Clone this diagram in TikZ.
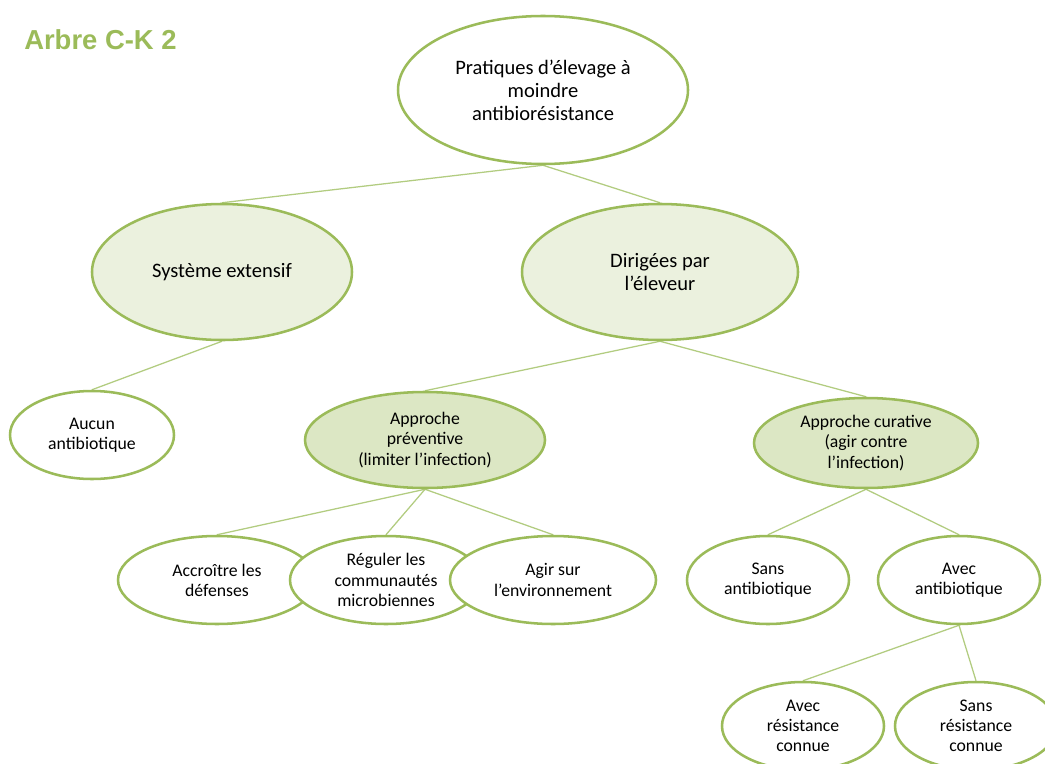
\documentclass[tikz,border=0pt]{standalone}
\usepackage{fontspec}
\setmainfont{Carlito}
\newfontfamily\titlefont{Liberation Sans}
\usetikzlibrary{shapes.geometric, backgrounds}

\definecolor{olive}{RGB}{155,187,89}
\definecolor{oliveleaf}{RGB}{235,241,222}
\definecolor{olivedeep}{RGB}{220,231,196}
\definecolor{olivelink}{RGB}{178,204,128}

\begin{document}
\begin{tikzpicture}[x=0.025cm, y=-0.025cm,
    idea/.style={ellipse, draw=olive, line width=1.8pt, fill=white, inner sep=0pt, align=center, font=\fontsize{12.6}{14.3}\selectfont},
    bigidea/.style={idea, font=\fontsize{14.6}{16.4}\selectfont},
    leaf/.style={fill=oliveleaf},
    deepleaf/.style={fill=olivedeep},
    link/.style={draw=olivelink, line width=0.9pt},
    size/.style n args={2}{minimum width=#1*0.025cm, minimum height=#2*0.025cm},
]
  \useasboundingbox (0,0) rectangle (1045,763);
  \clip (0,0) rectangle (1045,763);

  \node[anchor=west, inner sep=0pt, text=olive, font=\titlefont\bfseries\fontsize{19.5}{22}\selectfont] (title) at (24,40) {Arbre C-K 2};

  % root and first level
  \node[bigidea, size={290}{148}] (root) at (543,90) {Pratiques d’élevage à\\moindre\\antibiorésistance};
  \node[bigidea, leaf, size={260}{136}] (ext) at (222,272) {Système extensif};
  \node[bigidea, leaf, size={276}{136}] (dir) at (660,272) {Dirigées par\\l’éleveur};

  % second level
  \node[idea, size={164}{88}] (aucun) at (92,435) {Aucun\\antibiotique};
  \node[idea, deepleaf, size={240}{96}] (prev) at (425,440) {Approche\\préventive\\(limiter l’infection)};
  \node[idea, deepleaf, size={224}{90}] (cur) at (866,443) {Approche curative\\(agir contre\\l’infection)};

  % preventive branch, drawn left to right so each covers the previous one
  \node[idea, size={198}{88}] (def) at (217,580) {Accroître les\\défenses};
  \node[idea, size={192}{88}] (micro) at (386,580) {Réguler les\\communautés\\microbiennes};
  \node[idea, size={206}{88}] (env) at (553,580) {Agir sur\\l’environnement};

  % curative branch
  \node[idea, size={162}{88}] (sansab) at (768,580) {Sans\\antibiotique};
  \node[idea, size={162}{88}] (avecab) at (959,580) {Avec\\antibiotique};
  \node[idea, size={162}{88}] (avecres) at (803,726) {Avec\\résistance\\connue};
  \node[idea, size={162}{88}] (sansres) at (976,726) {Sans\\résistance\\connue};

  % tree links behind the ellipses
  \begin{scope}[on background layer]
    \fill[white] (0,0) rectangle (1045,763);
    \draw[link] (root.south) -- (ext.north);
    \draw[link] (root.south) -- (dir.north);
    \draw[link] (ext.south) -- (aucun.north);
    \draw[link] (dir.south) -- (prev.north);
    \draw[link] (dir.south) -- (cur.north);
    \draw[link] (prev.south) -- (def.north);
    \draw[link] (prev.south) -- (micro.north);
    \draw[link] (prev.south) -- (env.north);
    \draw[link] (cur.south) -- (sansab.north);
    \draw[link] (cur.south) -- (avecab.north);
    \draw[link] (avecab.south) -- (avecres.north);
    \draw[link] (avecab.south) -- (sansres.north);
  \end{scope}
\end{tikzpicture}
\end{document}
